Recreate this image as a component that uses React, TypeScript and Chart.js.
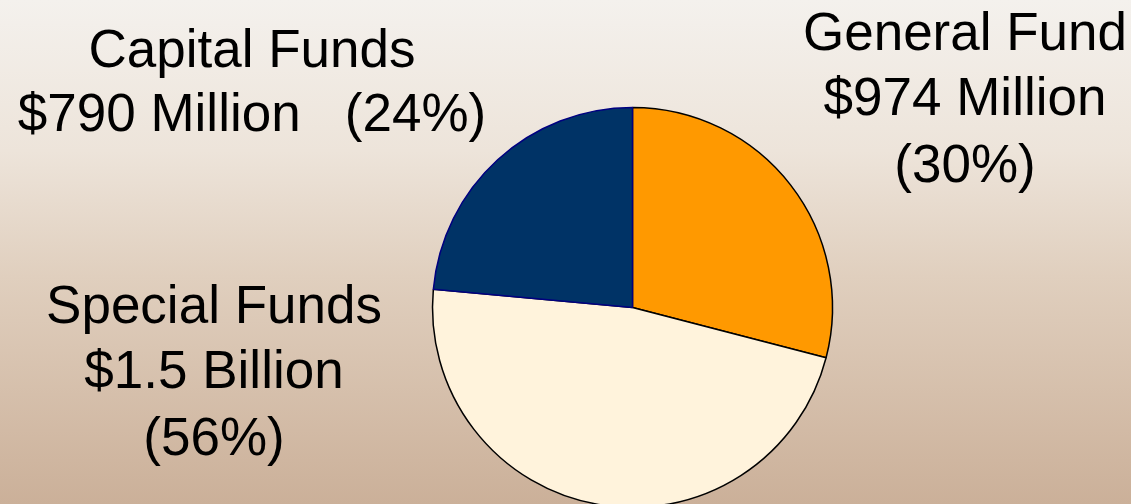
import React, { useEffect, useRef } from "react";
import { Chart, registerables } from "chart.js";

Chart.register(...registerables);

const categories = ["General Fund", "Special Funds", "Capital Funds"];
const values = [974, 1590, 790];
const sliceColors = ["#ff9900", "#fff3dc", "#003366"];
const sliceBorders = ["#000000", "#000000", "#000080"];

const generalLines = ["General Fund", "$974 Million", "(30%)"];
const capitalLines = ["Capital Funds", "$790 Million   (24%)"];
const specialLines = ["Special Funds", "$1.5 Billion", "(56%)"];

const labelBlocks = [
  { lines: generalLines, x: 965, baselines: [50, 115, 182] },
  { lines: capitalLines, x: 252, baselines: [67, 131] },
  { lines: specialLines, x: 214, baselines: [323, 388, 455] },
];

const CANVAS_W = 1131;
const CANVAS_H = 520;
const VIEW_H = 504;

const backgroundPlugin = {
  id: "bgGradient",
  beforeDraw(chart: any) {
    const { ctx, width } = chart;
    ctx.save();
    const g = ctx.createLinearGradient(0, 0, 0, VIEW_H);
    g.addColorStop(0, "#f4f1ed");
    g.addColorStop(0.3, "#ede4da");
    g.addColorStop(0.55, "#e0cfbe");
    g.addColorStop(1, "#cbb099");
    ctx.fillStyle = g;
    ctx.fillRect(0, 0, width, CANVAS_H);
    ctx.restore();
  },
};

const labelPlugin = {
  id: "fundLabels",
  afterDraw(chart: any) {
    const { ctx } = chart;
    ctx.save();
    ctx.fillStyle = "#000000";
    ctx.font = '53px "Liberation Sans", Arial, sans-serif';
    ctx.textAlign = "center";
    ctx.textBaseline = "alphabetic";
    labelBlocks.forEach((b) => {
      b.lines.forEach((line, i) => {
        ctx.fillText(line, b.x, b.baselines[i]);
      });
    });
    ctx.restore();
  },
};

export default function App() {
  const ref = useRef<HTMLCanvasElement | null>(null);

  useEffect(() => {
    document.body.style.margin = "0";
    document.body.style.overflow = "hidden";
    const canvas = ref.current;
    if (!canvas) return;
    const chart = new Chart(canvas, {
      type: "pie",
      data: {
        labels: categories,
        datasets: [
          {
            data: values,
            backgroundColor: sliceColors,
            borderColor: sliceBorders,
            borderWidth: 1.5,
            borderAlign: "center",
          },
        ],
      },
      options: {
        responsive: false,
        animation: false,
        radius: 200,
        layout: { padding: { left: 233, right: 99, top: 107, bottom: 12 } },
        plugins: {
          legend: { display: false },
          tooltip: { enabled: false },
        },
      },
      plugins: [backgroundPlugin, labelPlugin],
    } as any);
    return () => chart.destroy();
  }, []);

  return (
    <div style={{ width: CANVAS_W, height: VIEW_H, overflow: "hidden" }}>
      <canvas ref={ref} width={CANVAS_W} height={CANVAS_H} style={{ display: "block" }} />
    </div>
  );
}
